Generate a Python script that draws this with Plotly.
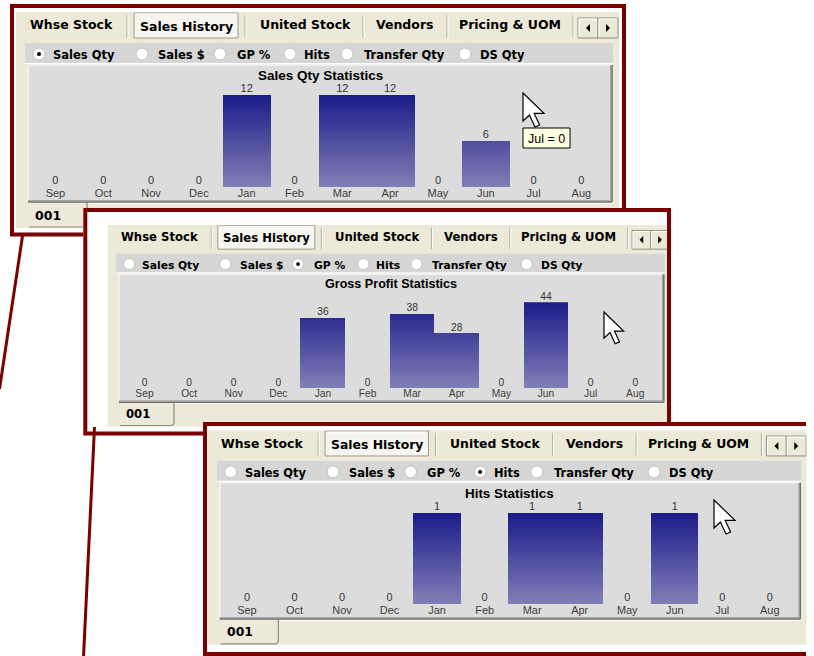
import plotly.graph_objects as go

# ---- data -------------------------------------------------------------
months = ["Sep", "Oct", "Nov", "Dec", "Jan", "Feb", "Mar", "Apr", "May", "Jun", "Jul", "Aug"]
sales_qty = [0, 0, 0, 0, 12, 0, 12, 12, 0, 6, 0, 0]
gross_profit = [0, 0, 0, 0, 36, 0, 38, 28, 0, 44, 0, 0]
hits = [0, 0, 0, 0, 1, 0, 1, 1, 0, 1, 0, 0]

tab_labels = ["Whse Stock", "Sales History", "United Stock", "Vendors", "Pricing & UOM"]
radio_labels = ["Sales Qty", "Sales $", "GP %", "Hits", "Transfer Qty", "DS Qty"]
chart_titles = ["Sales Qty Statistics", "Gross Profit Statistics", "Hits Statistics"]
page_tab = "001"

# ---- canvas helpers ---------------------------------------------------
W, H = 814, 656
RED = "#7B0000"
BEIGE = "#ECE9D8"


def px(X):
    return X / W


def py(Y):
    return 1 - Y / H


shapes = []
annotations = []


def rect_s(x0, y0, x1, y1, fill=None, line=None, lw=1, layer="below"):
    shapes.append(dict(type="rect", xref="paper", yref="paper",
                       x0=px(x0), x1=px(x1), y0=py(y1), y1=py(y0),
                       fillcolor=fill if fill else "rgba(0,0,0,0)",
                       line=dict(color=line if line else "rgba(0,0,0,0)", width=lw if line else 0),
                       layer=layer))


def line_s(x0, y0, x1, y1, color, lw=1, layer="below"):
    shapes.append(dict(type="line", xref="paper", yref="paper",
                       x0=px(x0), x1=px(x1), y0=py(y0), y1=py(y1),
                       line=dict(color=color, width=lw), layer=layer))


def path_s(pts, fill=None, line=None, lw=1, closed=True, layer="below"):
    d = "M " + " L ".join(f"{px(x):.5f},{py(y):.5f}" for x, y in pts)
    if closed:
        d += " Z"
    shapes.append(dict(type="path", xref="paper", yref="paper", path=d,
                       fillcolor=fill if fill else "rgba(0,0,0,0)",
                       line=dict(color=line if line else "rgba(0,0,0,0)", width=lw if line else 0),
                       layer=layer))


def circle_s(cx, cy, r, fill, line=None, lw=1, layer="below"):
    shapes.append(dict(type="circle", xref="paper", yref="paper",
                       x0=px(cx - r), x1=px(cx + r), y0=py(cy + r), y1=py(cy - r),
                       fillcolor=fill,
                       line=dict(color=line if line else "rgba(0,0,0,0)", width=lw if line else 0),
                       layer=layer))


def text_s(X, Y, txt, size, color="#000000", family="DejaVu Sans", weight="bold", xanchor="center"):
    annotations.append(dict(xref="paper", yref="paper", x=px(X), y=py(Y), text=txt,
                            showarrow=False, xanchor=xanchor, yanchor="middle",
                            font=dict(family=family, size=size, color=color, weight=weight),
                            borderpad=0))


# ---- one tab-control panel, laid out in local units -------------------
class Panel:
    def __init__(self, ax, ay, s):
        self.ax, self.ay, self.s = ax, ay, s

    def X(self, x):
        return self.ax + self.s * x

    def Y(self, y):
        return self.ay + self.s * y

    def rect(self, x0, y0, x1, y1, **kw):
        rect_s(self.X(x0), self.Y(y0), self.X(x1), self.Y(y1), **kw)

    def line(self, x0, y0, x1, y1, color, lw=1, **kw):
        line_s(self.X(x0), self.Y(y0), self.X(x1), self.Y(y1), color, lw, **kw)

    def path(self, pts, **kw):
        path_s([(self.X(x), self.Y(y)) for x, y in pts], **kw)

    def text(self, x, y, txt, size, **kw):
        text_s(self.X(x), self.Y(y), txt, size * self.s, **kw)


def draw_panel(p, selected, title):
    s = p.s
    p.rect(16, 12, 619, 228, fill=BEIGE)

    # tab strip
    for xs in [127, 245, 363, 447, 573]:
        p.line(xs, 15, xs, 38, "#ACA899")
        p.line(xs + 1, 15, xs + 1, 38, "#FFFFFF")
    p.rect(134, 13, 238, 38, fill="#F6F5F0", line="#9C9A8E", lw=1)
    p.line(135, 14, 237, 14, "#FFFFFF")
    tab_cx = [71, 186, 305, 405, 510]
    for lab, cx in zip(tab_labels, tab_cx):
        p.text(cx, 26 if lab == "Sales History" else 25, lab, 12.5)

    # scroll buttons
    for bx in (578, 598):
        p.rect(bx, 18, bx + 20, 38, fill=BEIGE, line="#8E8C80", lw=1)
        p.line(bx + 1, 19, bx + 19, 19, "#FFFFFF")
        p.line(bx + 1, 19, bx + 1, 37, "#FFFFFF")
    p.path([(590, 24), (590, 32), (586, 28)], fill="#000000")
    p.path([(606, 24), (606, 32), (610, 28)], fill="#000000")

    # option strip
    p.rect(25, 43, 613, 63, fill="#D6D6D6")
    p.line(25, 63.5, 613, 63.5, "#FFFFFF")
    radio_cx = [39, 142, 220, 290, 347, 465]
    radio_lx = [52, 157, 236, 303, 363, 479]
    for i, (lab, cx, lx) in enumerate(zip(radio_labels, radio_cx, radio_lx)):
        circle_s(p.X(cx), p.Y(54), 6 * s, "#FFFFFF", line="#C4C2B8", lw=1)
        if i == selected:
            circle_s(p.X(cx), p.Y(54), 2 * s, "#000000")
        p.text(lx, 55, lab, 11.5, xanchor="left")

    # chart frame with bevel
    p.rect(28, 65, 612, 201, fill="#DCDCDC")
    p.line(28, 65, 612, 65, "#F4F4F4", 1.5)
    p.line(28, 65, 28, 201, "#F4F4F4", 1.5)
    p.line(610.5, 65, 610.5, 201, "#A6A6A6", 1)
    p.line(612, 65, 612, 202, "#6E6E6E", 1.5)
    p.line(28, 200.5, 612, 200.5, "#A6A6A6", 1)
    p.line(28, 202, 612, 202, "#6E6E6E", 1.5)
    p.text(320, 75.5, title, 13.5, family="Liberation Sans Narrow, Liberation Sans")

    # bottom page tab
    p.rect(28, 203, 86, 226, fill=BEIGE)
    p.path([(87, 203), (87, 225), (85, 227), (29, 227)], line="#8E8C80", lw=1.2, closed=False)
    p.line(88, 203.5, 612, 203.5, "#FFFFFF")
    p.text(48, 215, page_tab, 12.5)


def draw_cursor(tx, ty, k):
    shape = [(0, 0), (0, 14), (3.2, 11), (6, 17), (8.3, 16), (5.6, 10.2), (10.5, 10.2)]
    path_s([(tx + k * x, ty + k * y) for x, y in shape], fill="#FFFFFF", line="#000000", lw=1.2, layer="above")


panels = [Panel(0.0, 0.0, 1.0), Panel(92.8, 213.7, 0.933), Panel(191.9, 418.2, 0.994)]
series = [sales_qty, gross_profit, hits]
selected_opt = [0, 2, 3]

# frames: white backing drawn before each panel, red outline after
frames = [
    dict(box=(12, 6, 624, 234.5), open_right=False),
    dict(box=(85.3, 210, 669, 433.5), open_right=False),
    dict(box=(205, 424, 806, 654), open_right=True),
]

fig = go.Figure()

N_BANDS = 40
TOP_C = (28, 28, 138)
BOT_C = (128, 126, 182)

for i, (p, vals, title, sel, fr) in enumerate(zip(panels, series, chart_titles, selected_opt, frames)):
    x0, y0, x1, y1 = fr["box"]
    rect_s(x0 - 2, y0 - 2, x1 + 2, y1 + 2, fill="#FFFFFF")
    draw_panel(p, sel, title)
    if fr["open_right"]:
        path_s([(x1, y0), (x0, y0), (x0, y1), (x1, y1)], line=RED, lw=4, closed=False)
    else:
        rect_s(x0, y0, x1, y1, line=RED, lw=4)

    # plot area: month slots 47.8 wide, zero line at 187, full scale at 95
    ax_name = "xaxis" if i == 0 else f"xaxis{i + 1}"
    ay_name = "yaxis" if i == 0 else f"yaxis{i + 1}"
    xr = "x" if i == 0 else f"x{i + 1}"
    yr = "y" if i == 0 else f"y{i + 1}"
    vmax = max(vals)
    fig.layout[ax_name] = dict(domain=[px(p.X(31.5)), px(p.X(605.3))], range=[-0.5, 11.5],
                               type="category", anchor=yr, showgrid=False, zeroline=False,
                               showline=False, ticks="", fixedrange=True, ticklabelstandoff=-2,
                               tickfont=dict(family="Liberation Sans", size=11 * p.s, color="#3C3C3C"))
    fig.layout[ay_name] = dict(domain=[py(p.Y(187)), py(p.Y(95))], range=[0, vmax],
                               anchor=xr, visible=False, fixedrange=True)

    # vertical colour ramp: darkest at full scale, lightest at zero
    for k in range(N_BANDS):
        hi = vmax * (N_BANDS - k) / N_BANDS
        t = k / (N_BANDS - 1)
        c = tuple(round(TOP_C[j] + (BOT_C[j] - TOP_C[j]) * t) for j in range(3))
        fig.add_trace(go.Bar(x=months, y=[min(v, hi) if v > 0 else None for v in vals], width=1.0,
                             marker=dict(color=f"rgb{c}", line=dict(width=0)),
                             xaxis=xr, yaxis=yr, hoverinfo="skip"))
    fig.add_trace(go.Scatter(x=months, y=vals, mode="text", text=[str(v) for v in vals],
                             textposition="top center", cliponaxis=False,
                             textfont=dict(family="Liberation Sans", size=11 * p.s, color="#333333"),
                             xaxis=xr, yaxis=yr, hoverinfo="skip"))

# connector strokes between the panels
line_s(22.5, 236, -0.5, 389, RED, 3, layer="above")
line_s(94.5, 427, 83.5, 657, RED, 3, layer="above")

# mouse pointers and the hover tip
draw_cursor(523, 93, 2.0)
draw_cursor(604, 312, 2.0 * 0.933)
draw_cursor(714, 500, 2.0)
rect_s(523, 128, 570, 148, fill="#FFFFE1", line="#000000", lw=1, layer="above")
text_s(546.5, 138.5, f"{months[10]} = {sales_qty[10]}", 12.5, family="Liberation Sans", weight="normal")

# the lower window is cut off at the right edge
rect_s(806.5, 418, 816, 658, fill="#FFFFFF", layer="above")

fig.update_layout(width=W, height=H, margin=dict(l=0, r=0, t=0, b=0),
                  paper_bgcolor="#FFFFFF", plot_bgcolor="rgba(0,0,0,0)",
                  barmode="overlay", bargap=0, showlegend=False,
                  shapes=shapes, annotations=annotations, hovermode=False)

fig.write_html("out.html", config=dict(displayModeBar=False))
